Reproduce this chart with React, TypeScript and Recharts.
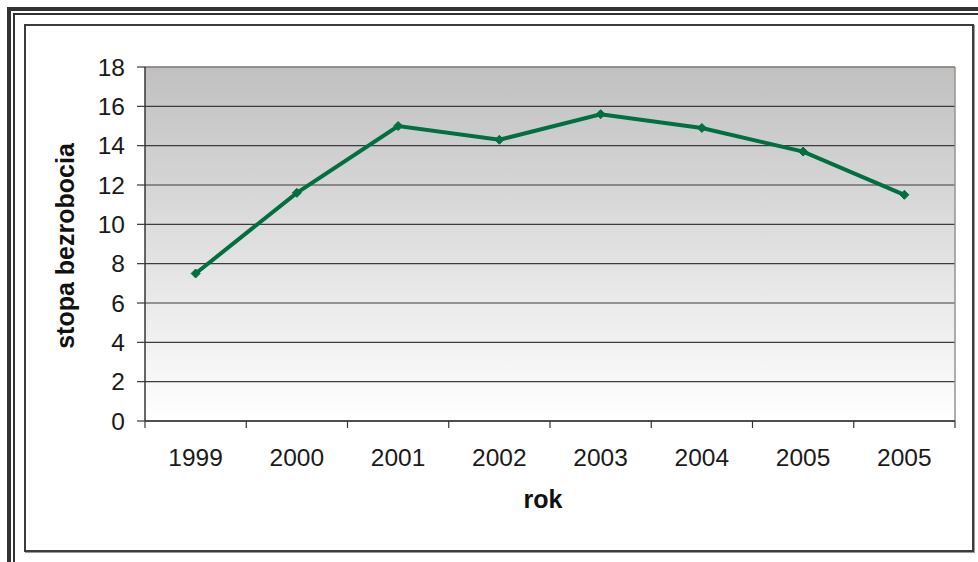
import React from 'react';
import {
    LineChart,
    Line,
    XAxis,
    YAxis,
    CartesianGrid,
    ReferenceLine,
} from 'recharts';

const years = ['1999', '2000', '2001', '2002', '2003', '2004', '2005', '2005'];
const unemployment = [7.5, 11.6, 15.0, 14.3, 15.6, 14.9, 13.7, 11.5];
const yTicks = [0, 2, 4, 6, 8, 10, 12, 14, 16, 18];

const FONT = '"Liberation Sans", Arial, sans-serif';
const GREEN = '#007040';
const AXIS = '#3a3434';

// points sit in the middle of each category band, tick marks on the band edges
const data = years.map((year, i) => ({ pos: i + 0.5, year, value: unemployment[i] }));
const xTicks: number[] = [];
for (let i = 0; i <= years.length; i++) {
    xTicks.push(i);
    if (i < years.length) xTicks.push(i + 0.5);
}

const XTick = (props: any) => {
    const { x, y, payload } = props;
    const v = payload.value as number;
    if (Number.isInteger(v)) {
        return <line x1={x} y1={y} x2={x} y2={y + 7} stroke={AXIS} strokeWidth={1.2} />;
    }
    return (
        <text
            x={x}
            y={y + 28}
            dy="0.71em"
            textAnchor="middle"
            fontFamily={FONT}
            fontSize={24.5}
            fill="#1a1a1a"
        >
            {years[Math.round(v - 0.5)]}
        </text>
    );
};

const Diamond = (props: any) => {
    const { cx, cy, index } = props;
    if (cx == null || cy == null) return <g key={`d-${index}`} />;
    const r = 4.5;
    return (
        <path
            key={`d-${index}`}
            d={`M${cx},${cy - r} L${cx + r},${cy} L${cx},${cy + r} L${cx - r},${cy} Z`}
            fill={GREEN}
            stroke={GREEN}
            strokeWidth={1}
        />
    );
};

const YTitle = (props: any) => {
    const vb = props.viewBox || {};
    const x = 74;
    const y = vb.y + vb.height / 2 + 2;
    return (
        <text
            x={x}
            y={y}
            transform={`rotate(-90, ${x}, ${y})`}
            textAnchor="middle"
            fontFamily={FONT}
            fontWeight="bold"
            fontSize={25}
            fill="#111"
        >
            stopa bezrobocia
        </text>
    );
};

const XTitle = (props: any) => {
    const vb = props.viewBox || {};
    return (
        <text
            x={vb.x + vb.width / 2 - 7}
            y={508}
            textAnchor="middle"
            fontFamily={FONT}
            fontWeight="bold"
            fontSize={25}
            fill="#111"
        >
            rok
        </text>
    );
};

const App: React.FC = () => {
    return (
        <div style={{ position: 'fixed', left: 0, top: 0, width: 978, height: 562, overflow: 'hidden', background: '#fff' }}>
            {/* outer double frame, running off the right/bottom edge */}
            <div style={{ position: 'absolute', left: 7, top: 7, width: 1200, height: 900, borderTop: '4px solid #333', borderLeft: '4px solid #333' }} />
            <div style={{ position: 'absolute', left: 13, top: 13, width: 1200, height: 900, borderTop: '2px solid #333', borderLeft: '2px solid #333' }} />
            <div style={{ position: 'absolute', left: 24, top: 24, width: 950, height: 528, boxSizing: 'border-box', border: '2px solid #3c3c3c', boxShadow: '1px 1px 0 #999' }} />

            <div style={{ position: 'absolute', left: 0, top: 0 }}>
                <LineChart
                    width={978}
                    height={562}
                    data={data}
                    margin={{ top: 67, right: 23, bottom: 0, left: 0 }}
                >
                    <defs>
                        <linearGradient id="plotBg" x1="0" y1="0" x2="0" y2="1">
                            <stop offset="0%" stopColor="#c0c0c0" />
                            <stop offset="100%" stopColor="#ffffff" />
                        </linearGradient>
                    </defs>
                    <CartesianGrid
                        vertical={false}
                        stroke="#3c3c3c"
                        strokeWidth={1.2}
                        fill="url(#plotBg)"
                        fillOpacity={1}
                    />
                    <XAxis
                        type="number"
                        dataKey="pos"
                        domain={[0, years.length]}
                        ticks={xTicks}
                        interval={0}
                        height={141}
                        tickSize={0}
                        tickMargin={0}
                        tickLine={false}
                        axisLine={{ stroke: AXIS, strokeWidth: 1.5 }}
                        tick={<XTick />}
                        label={<XTitle />}
                    />
                    <YAxis
                        type="number"
                        domain={[0, 18]}
                        ticks={yTicks}
                        width={145}
                        interval={0}
                        tickSize={8}
                        tickMargin={12}
                        axisLine={{ stroke: AXIS, strokeWidth: 1.5 }}
                        tickLine={{ stroke: AXIS, strokeWidth: 1.2 }}
                        tick={{ fontFamily: FONT, fontSize: 24.5, fill: '#1a1a1a' }}
                        label={<YTitle />}
                    />
                    <ReferenceLine y={18} stroke="#9a928e" strokeWidth={1.5} />
                    <ReferenceLine x={years.length} stroke="#9a928e" strokeWidth={1.5} />
                    <Line
                        type="linear"
                        dataKey="value"
                        stroke={GREEN}
                        strokeWidth={4}
                        dot={Diamond}
                        activeDot={false}
                        isAnimationActive={false}
                    />
                </LineChart>
            </div>
        </div>
    );
};

export default App;
